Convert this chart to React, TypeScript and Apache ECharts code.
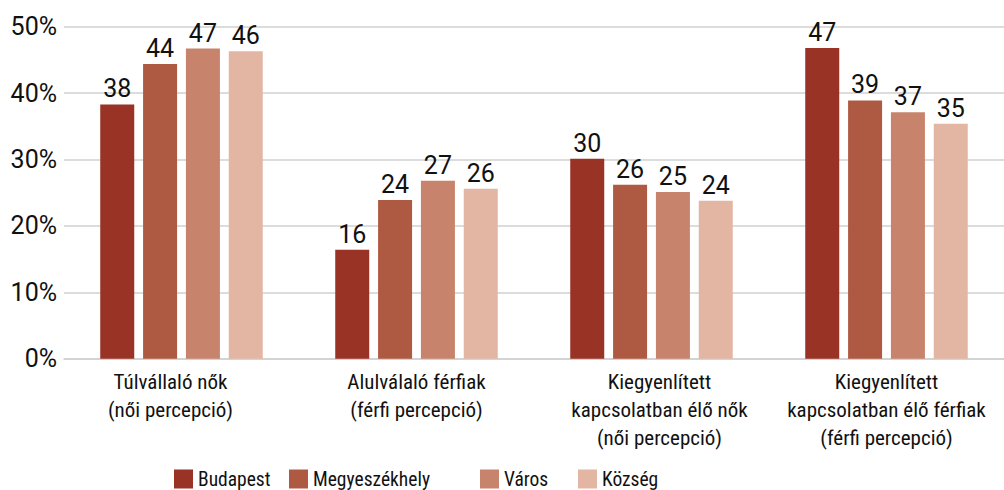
import React, { useEffect, useRef } from "react";
import * as echarts from "echarts";

const categories = [
  "Túlvállaló nők\n(női percepció)",
  "Alulválaló férfiak\n(férfi percepció)",
  "Kiegyenlített\nkapcsolatban élő nők\n(női percepció)",
  "Kiegyenlített\nkapcsolatban élő férfiak\n(férfi percepció)",
];
const seriesNames = ["Budapest", "Megyeszékhely", "Város", "Község"];
const budapest = [38.3, 16.4, 30.1, 46.8];
const megyeszekhely = [44.4, 23.9, 26.2, 38.9];
const varos = [46.7, 26.8, 25.1, 37.1];
const kozseg = [46.3, 25.6, 23.8, 35.4];
const colors = ["#983325", "#AE5A42", "#C7836B", "#E3B6A3"];
const yTicks = [0, 10, 20, 30, 40, 50];
const legendLeft = [174, 289, 480, 578];

const FONT = "'Roboto Condensed', 'Liberation Sans Narrow', 'Arial Narrow', Roboto, sans-serif";
const NUMFONT = "Roboto, 'Noto Sans', sans-serif";

export default function App() {
  const ref = useRef<HTMLDivElement>(null);
  useEffect(() => {
    if (!ref.current) return;
    const chart = echarts.init(ref.current, null, { renderer: "svg" });
    const allData = [budapest, megyeszekhely, varos, kozseg];
    const labStyle = (pad: number[]) => ({
      fontFamily: FONT,
      fontSize: 21,
      lineHeight: 28,
      color: "#111",
      padding: pad,
    });
    chart.setOption({
      animation: false,
      textStyle: { fontFamily: FONT },
      grid: { left: 64, right: -4, top: 26.7, bottom: 131.3, containLabel: false },
      legend: seriesNames.map((n, i) => ({
        data: [n],
        left: legendLeft[i],
        top: 469,
        itemWidth: 19,
        itemHeight: 19,
        itemGap: 6,
        icon: "rect",
        padding: 0,
        textStyle: { fontFamily: FONT, fontSize: 19.5, lineHeight: 19, color: "#111" },
      })),
      xAxis: {
        type: "category",
        data: categories,
        axisTick: { show: false },
        axisLine: { show: true, lineStyle: { color: "#d0d0d0", width: 1.5 } },
        axisLabel: {
          fontFamily: FONT,
          fontSize: 21,
          lineHeight: 28,
          color: "#111",
          margin: 9,
          interval: 0,
          formatter: (v: string, idx: number) => {
            const key = idx === 0 ? "l" : idx === 2 ? "r" : "n";
            return v
              .split("\n")
              .map((s) => `{${key}|${s}}`)
              .join("\n");
          },
          rich: {
            l: labStyle([0, 22, 0, 0]),
            r: labStyle([0, 0, 0, 16]),
            n: labStyle([0, 0, 0, 0]),
          },
        },
      },
      yAxis: {
        type: "value",
        min: yTicks[0],
        max: yTicks[yTicks.length - 1],
        interval: 10,
        axisLine: { show: false },
        axisTick: { show: false },
        splitLine: { lineStyle: { color: "#d0d0d0", width: 1.5 } },
        axisLabel: {
          formatter: "{value}%",
          fontFamily: NUMFONT,
          fontSize: 25,
          color: "#111",
          margin: 7,
        },
      },
      series: seriesNames.map((n, i) => ({
        name: n,
        type: "bar",
        data: allData[i],
        barWidth: 34,
        barGap: "26%",
        itemStyle: { color: colors[i] },
        label: {
          show: true,
          position: "top",
          distance: 3,
          formatter: (p: any) => String(Math.round(p.value)),
          fontFamily: NUMFONT,
          fontSize: 25,
          color: "#111",
        },
      })),
    });
    return () => chart.dispose();
  }, []);
  return <div ref={ref} style={{ width: 1004, height: 490, position: "absolute", left: 0, top: 0 }} />;
}
